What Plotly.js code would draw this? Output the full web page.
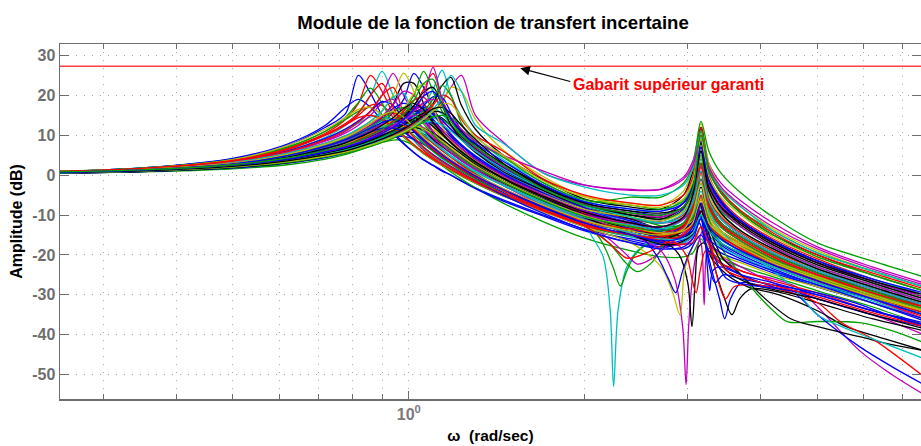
<!DOCTYPE html>
<html><head><meta charset="utf-8"><script src="https://cdn.plot.ly/plotly-3.0.0.min.js"></script>
<style>html,body{margin:0;padding:0;background:#fff;overflow:hidden}</style></head><body><div id="g" style="width:921px;height:446px"></div>
<script>
const omega=[.25,.35,.5,.62,.72,.78,.82,.86,.9,.94,.98,1.02,1.06,1.1,1.14,1.18,1.23,1.3,1.45,1.7,2,2.4,2.7,2.95,3.06,3.16,3.26,3.42,3.7,4.2,5,6.2,7.6];
const omegaLeft=omega.slice(0,21);
const guarantee=27.3;
const c01=[.9,1.8,4.1,7.4,12,15.5,25,20.5,15,11,8,5.7,3.9,2.5,1.2,0,-1.4,-3.2,-6.2,-10,-13.6,-16,-17.5,-17,-15,-9,-13,-17,-20,-23.5,-27.5,-31,-35];
const c02=[.5,.8,1.6,2.6,4,5.2,6.2,7.2,8.2,8.8,8.6,7.4,5.6,4,2.4,.8,-1,-3.2,-7,-11.7,-15.8,-19,-20.5,-20.5,-19.5,-16,-19,-21,-23,-25.5,-29,-33,-37.5];
const c03=[.9,1.7,3.8,6.8,10.5,14,18,25,21,15.5,11.7,8.7,6.2,4.2,2.8,1.5,0,-1.8,-4.9,-9,-12.6,-14.8,-15.5,-13,-8,2,-8,-13,-16.5,-21,-25,-29.5,-33.5];
const c04=[.8,1.6,3.6,6.2,9.5,12.5,15.5,20,26,20,14.5,11,8,6,4.1,2.8,1.3,-.5,-4,-8.2,-12,-14,-15,-14,-11,-4,-11,-15,-18,-22,-26,-30,-34];
const c05=[.8,1.5,3.3,5.8,8.7,11,13.3,16,20,25.5,20,15,11.5,8.8,6.6,4.7,2.8,.8,-2.6,-7.1,-11,-13,-14,-12,-7,3,-7,-12,-15.5,-20,-24.5,-29,-32.5];
const c06=[.8,1.5,3.1,5.3,7.8,9.8,11.6,13.6,16.2,20,25.6,21,15.5,12,9.2,7.1,4.7,2.2,-1.4,-6,-10,-12,-13,-11,-6,4.5,-5,-10,-14,-19,-23.5,-28,-32];
const c07=[.8,1.4,3,5,7.4,9.2,10.8,12.6,14.8,17.8,23,23,18,13.6,10.5,8.1,5.8,3.1,-.8,-5.5,-9.5,-12,-13.5,-13,-10,-3,-10,-14,-17,-21.5,-25.5,-30,-34];
const c08=[.8,1.4,2.8,4.7,6.9,8.5,9.9,11.4,13.2,15.6,19,25.5,22,17,13,10,7.5,4.4,.1,-4.7,-9,-11,-11.5,-8.5,-3,9,-1,-7,-12,-17,-22,-27,-31];
const c09=[.8,1.3,2.7,4.4,6.4,7.8,9,10.4,12,13.8,16.3,20,26,21,16,12.7,9.5,6,1.4,-3.8,-8.2,-10,-11,-9,-4.5,5,-4,-9,-13,-18,-23,-27.5,-31.5];
const c10=[.8,1.3,2.6,4.2,6,7.3,8.4,9.6,11,12.6,14.6,17.4,21.5,25.5,19,14.5,10.8,7,2.2,-3.2,-7.6,-9.5,-10,-7,-1.5,10,0,-6,-11,-16,-21,-26,-30];
const c11=[.7,1.2,2.4,3.9,5.5,6.7,7.6,8.7,9.9,11.2,12.8,14.8,17.5,21.5,26.3,20,14.7,10,3.9,-1.9,-6.6,-8.5,-9,-6,-1,8,-1,-6.5,-11.5,-16.5,-21.5,-26,-30];
const c12=[.7,1.2,2.3,3.7,5.2,6.2,7.1,8.1,9.1,10.3,11.6,13.3,15.4,18,22.5,24.5,17.5,11.5,5,-1.2,-6,-8,-8.5,-5,1,12,1.5,-4.5,-9.5,-15,-20,-25,-29];
const c13=[.7,1.1,2.2,3.4,4.8,5.8,6.5,7.4,8.3,9.3,10.5,11.9,13.5,15.5,18,22,21,14,6.3,-.4,-5.3,-7,-7.5,-4,2,13,3,-3,-8,-13.5,-19,-24,-28];
const c14=[.7,1.1,2.2,3.5,4.9,5.9,6.6,7.5,8.4,9.4,10.6,12,13.6,15.8,18.5,22,25,15,8.3,.5,-2.5,-3.6,-3.5,-.5,3.5,11.5,3,-2,-6.5,-12,-18,-23,-27];
const c15=[.9,1.8,4.2,7.8,12.5,17,19,17,13.5,10.3,7.8,5.7,3.8,2.4,1,0,-1.5,-3.4,-6.5,-10.3,-14,-17,-18,-17,-15,-9,-14,-17.5,-20.5,-24,-28,-32,-36];
const c16=[.9,1.7,3.9,7,11,14,16,17,15,12,9.5,7.3,5.4,3.8,2.4,1.2,-.2,-2,-5.2,-9,-12.8,-15.5,-16.5,-15,-12,-5,-12,-16,-19,-22.5,-26.5,-31,-35];
const c17=[.8,1.6,3.7,6.5,10,12.7,15,17.5,17.5,14.5,11.2,8.8,6.4,4.5,3,1.7,.2,-1.6,-4.6,-8.6,-12.2,-15,-16,-14,-10,-2,-10,-14,-17.5,-21.5,-25.5,-30,-34];
const c18=[.8,1.5,3.4,6,9,11.2,13,14.6,15,13.5,11,8.7,6.6,4.8,3.2,1.9,.5,-1.3,-4.5,-8.6,-12.4,-15.5,-17,-17,-15,-10,-15,-18,-20.5,-24,-27.5,-31.5,-36];
const c19=[.8,1.5,3.3,5.7,8.5,10.6,12.5,15,18,19,15,11.7,9,6.8,5,3.4,1.7,-.3,-3.5,-7.6,-11.4,-14,-15,-13,-9,-1,-9,-13,-16.5,-21,-25,-29.5,-33.5];
const c20=[.7,1.4,3,5.2,7.7,9.5,11,12.8,14.8,16.3,15.5,13,10.4,8,6.2,4.6,2.8,.8,-2.6,-6.9,-10.7,-13.5,-14.5,-13,-9,0,-8,-12.5,-16,-20.5,-25,-29.5,-33];
const c21=[.7,1.3,2.8,4.8,7,8.6,9.9,11.2,12.6,13.7,14,12.8,11,9,7.2,5.5,3.6,1.5,-2,-6.4,-10.2,-13.5,-15,-15,-13,-8,-13,-16,-19,-22.5,-26.5,-30.5,-34.5];
const c22=[.7,1.3,2.9,5,7.3,9,10.5,12.2,14.3,16.7,18,17,14,11,8.6,6.6,4.5,2.2,-1.5,-6,-9.8,-13,-14,-12,-8,1,-7,-12,-15.5,-20,-24.5,-29,-33];
const c23=[.7,1.3,2.7,4.5,6.6,8,9.3,10.7,12.2,13.9,15.5,16,14.6,12.4,10,8,5.7,3.2,-.9,-5.5,-9.3,-12.5,-13.5,-11,-6.5,4,-6,-11,-15,-19.5,-24,-28.5,-32.5];
const c24=[.8,1.3,2.7,4.4,6.4,7.8,9,10.3,11.9,13.7,16,18.8,19.5,16.5,13,10.4,7.6,4.7,.4,-4.3,-8.2,-11,-12,-10,-6,3,-6,-10.5,-14.5,-19,-23.5,-28,-32];
const c25=[.7,1.2,2.4,4,5.8,7,8,9.2,10.5,12,13.6,15.3,16.8,17,15.3,12.7,9.7,6.4,1.6,-3.4,-7.5,-11,-12,-9.5,-4,7,-3,-8.5,-13,-18,-23,-27.5,-31.5];
const c26=[.7,1.2,2.3,3.8,5.4,6.5,7.4,8.4,9.6,10.8,12.1,13.4,14.3,14.4,13.4,11.6,9.2,6.2,1.7,-3.3,-7.4,-11,-12,-11,-8,-1,-8,-12,-15.5,-20,-24.5,-28.5,-32.5];
const c27=[.6,1.1,2.2,3.6,5.2,6.3,7.2,8.2,9.2,10.3,11.2,11.9,12,11.3,10,8.5,6.5,3.8,-.3,-5,-9,-12,-13.5,-13,-11,-5,-11,-14.5,-17.5,-21.5,-25.5,-29.5,-33.5];
const c28=[.6,1,2,3.3,5,6,7,8,9,9.9,10.5,10.7,10.2,9.2,7.9,6.4,4.5,2.1,-1.8,-6.6,-10.8,-14,-15.5,-15.5,-14,-9,-13.5,-17,-19.5,-23,-27,-31,-35];
const c29=[.5,.9,1.8,3,4.4,5.6,6.6,7.6,8.7,9.6,9.7,9,7.7,6.2,4.7,3.2,1.4,-.8,-4.4,-9,-13,-16.5,-18,-18.5,-17,-13,-17,-19.5,-21.5,-24.5,-28,-32,-36.5];
const c30=[.9,1.8,3.9,7,11,14.6,18.2,21.8,18,13,10,7.6,5.5,3.8,2.4,1.2,-.2,-2,-5.2,-9,-12.8,-15,-16,-13.5,-9,-1,-8.5,-13,-16.5,-21,-25.5,-29.5,-33.5];
const c31=[.8,1.5,3.4,5.9,8.9,11.2,13.3,16,20,22,15.5,11.5,8.7,6.5,4.8,3.2,1.5,-.5,-3.7,-7.8,-11.6,-13.5,-14.5,-12.5,-8.5,.5,-8,-12.5,-16,-20.5,-25,-29,-33];
const c32=[.8,1.5,3.2,5.5,8,9.9,11.6,13.5,16,19.5,20.5,14.5,11,8.4,6.4,4.7,3,.8,-2.5,-6.8,-10.6,-12.5,-13.5,-11,-6,6,-4,-9.5,-14,-18.5,-23.5,-28,-32];
const c33=[.8,1.4,3,5,7.4,9.1,10.7,12.5,14.7,17.6,21,20,15,11,8.2,6.2,4.2,1.9,-1.8,-6.2,-10,-12,-13,-10.5,-5,7,-3,-8.5,-13,-18,-23,-27.5,-31.5];
const c34=[.8,1.3,2.7,4.5,6.5,7.9,9.2,10.6,12.2,14.1,16.7,20.5,23,17,12,9,6.3,3.6,-.4,-4.9,-8.6,-10.5,-11.5,-9,-4,6,-3,-8,-12.5,-17.5,-22.5,-27,-31];
const c35=[.8,1.3,2.6,4.2,6.1,7.3,8.4,9.6,11,12.6,14.6,17.4,20.8,22,17.5,12.6,9,5.7,.9,-3.9,-7.8,-10,-10.5,-8,-2.5,9,-1,-6.5,-11.5,-16.5,-21.5,-26.5,-30.5];
const c36=[.7,1.2,2.4,3.9,5.6,6.8,7.8,8.9,10.1,11.5,13.1,15,17.4,19.6,19.5,15.7,11.3,7.2,2.2,-3,-7.1,-9,-10,-7,-2,8.5,-1,-6.5,-11.5,-16.5,-22,-26.5,-30.5];
const c37=[.7,1.2,2.4,3.8,5.4,6.5,7.4,8.4,9.6,10.9,12.3,14,16.1,19,22.5,20,13,8,2.7,-2.6,-6.7,-5.5,-5.5,-2,2.5,13.5,6,.5,-4.5,-10.5,-17,-21.5,-25.5];
const c38=[.8,1.6,3.6,6.4,10,12.6,14.4,15,14,12,9.8,7.6,5.6,4,2.6,1.4,0,-1.8,-5,-9,-12.7,-15,-16,-15,-12,-6,-12,-15.5,-18.5,-22.5,-26.5,-30.5,-34.5];
const c39=[.7,1.3,2.7,4.6,6.8,8.3,9.6,10.8,12,12.9,13,12,10.2,8.3,6.6,4.9,3.1,1,-2.6,-7.2,-11.2,-14.5,-16,-16,-14.5,-10,-14,-17,-19.5,-23,-27,-31,-35];
const c40=[.7,1.2,2.6,4.2,6.1,7.5,8.6,9.9,11.2,12.6,14,15,14.8,13.3,11.2,9,6.7,4,-.2,-5,-9,-12,-13,-11,-7,2,-6.5,-11,-15,-19.5,-24,-28.5,-32.5];
const c41=[.6,1.1,2.4,4,5.9,7.2,8.2,9.4,10.5,11.5,12.2,12.4,11.6,10.2,8.5,6.8,4.8,2.4,-1.5,-6.2,-10.2,-13,-14.5,-14,-12,-6,-12,-15,-18,-22,-26,-30.5,-34];
const c42=[.7,1.2,2.4,3.9,5.5,6.7,7.6,8.7,9.9,11.2,12.6,14.2,15.5,16,15.7,14,11,7.7,2.8,-2.6,-7,-10,-11,-8,-3,8,-2,-8,-12.5,-17.5,-22.5,-27,-31];
const c43=[.6,1.1,2.5,4.3,6.5,8.2,9.6,10.8,11.7,11.8,10.8,9,7,5.2,3.6,2.2,.6,-1.4,-5,-9.6,-13.7,-17,-18.5,-18,-16,-11,-16,-18.5,-21,-24,-27.5,-32,-36];
const c44=[.7,1.4,2.9,5,7.3,9,10.4,12,13.9,15.9,17,15.5,12.8,10.2,8,6.2,4.2,1.9,-1.8,-6.4,-10.4,-13,-14,-12,-7.5,3,-7,-12,-15.5,-20,-24.5,-29,-33];
const c45=[.9,1.7,3.7,6.6,10.2,13,15.6,20,23,17,12.6,9.5,7,5,3.4,2,.5,-1.4,-4.6,-8.7,-12.4,-15,-15.5,-13,-8,2.5,-7.5,-12.5,-16,-20.5,-25,-29.5,-33];
const c46=[.6,1.1,2.2,3.6,5.2,6.3,7.2,8.2,9.3,10.4,11.5,12.6,13.3,13.4,12.6,11,8.8,6,1.6,-3.5,-7.7,-10.5,-12,-10.5,-7,1,-6.5,-11,-15,-19.5,-24,-28.5,-32.5];
const c47=[.7,1.2,2.5,4.1,5.8,7,8.1,9.2,10.6,12,13.8,16,18.2,19,17.5,14,10.4,6.9,2.2,-3,-7.3,-9.5,-10.5,-8,-3,7,-2,-7.5,-12,-17,-22,-26.5,-30.5];
const c48=[.7,1.4,3,5.2,7.8,9.6,11.2,13,15,16,14.5,12,9.5,7.2,5.4,3.8,2,0,-3.4,-7.6,-11.4,-14,-15,-13.5,-9.5,-2,-10,-14,-17,-21.5,-25.5,-30,-34];
const c49=[.7,1.3,2.7,4.5,6.7,8.1,9.4,10.8,12.5,14.4,16.7,18,16.4,13.2,10.5,8.2,5.9,3.4,-.7,-5.3,-9.3,-12,-13,-10.5,-5,6,-4,-9.5,-14,-18.5,-23.5,-28,-32];
const c50=[.7,1.3,2.8,4.9,7.2,8.9,10.3,11.8,13.2,13.9,13,11,8.9,7,5.2,3.6,1.9,-.2,-3.6,-8,-12,-15,-16.5,-15.5,-13,-7,-13,-16,-19,-22.5,-26.5,-31,-35];
const c51=[.8,1.3,2.6,4.2,6,7.2,8.2,9.4,10.7,12.2,14,16.5,20,27,19,14.5,11.5,8.5,5,1,-2.5,-3.8,-3.6,-1,2.5,9,2,-3,-7.5,-13,-18.5,-23.5,-27.5];
const c52=[.7,1.1,2.2,3.5,5,6,6.8,7.7,8.7,9.7,10.9,12.4,14.2,16.5,19.5,25,21,12.5,8,.5,-3,-5,-5,-2.5,1.5,11,2,-3.5,-8,-14,-19.5,-24,-28];
const c53=[.7,1.1,2.2,3.5,5,6,6.9,7.8,8.9,10,11.3,12.9,15,17.5,20,19,14,10,6,-1,-5,-7,-7.5,-5,-.5,12,2,-4,-9,-14.5,-20,-24.5,-28.5];
const c54=[.7,1.1,2.1,3.4,4.8,5.8,6.6,7.5,8.5,9.6,10.8,12.2,14,16,17.8,17.7,14.5,9.5,5,-1.5,-5.5,-7.5,-8,-6,-1.5,9,-.5,-5.5,-10,-15.5,-20.5,-25,-29];
const c55=[.6,1,2,3.2,4.6,5.5,6.3,7.2,8.2,9.3,10.5,11.9,13.3,14.6,15,14.4,12.5,8.5,4.5,-2,-6.2,-7.5,-8.5,-6.5,-2,10,1,-4,-9,-14,-19.5,-24,-28];
const c56=[.7,1.2,2.5,4,5.8,7,8,9.2,10.5,12,14,16.5,19.8,21,18,14.2,10.6,8,3.5,-2.5,-6.7,-8.5,-9,-7,-3,7,-1.5,-7,-11.5,-16.5,-21.5,-26,-29.5];
const c57=[.7,1.1,2.2,3.6,5.1,6.1,7,8,9.1,10.2,11.6,13.2,15,16.6,17,15.5,12.5,9,3,-3,-7,-9,-9.5,-8,-4,6,-3,-8,-12,-17,-22,-26.5,-30];
const c58=[.8,1.3,2.6,4.3,6.2,7.5,8.6,10,11.5,13.2,15.4,18.7,23,24,17.5,13.5,10.2,7.2,2.5,-3.5,-7.5,-9.5,-10,-8,-3.5,11,1,-4.5,-9.5,-15,-20.5,-25,-29];
const curves=[c01,c02,c03,c04,c05,c06,c07,c08,c09,c10,c11,c14,c13,c12,c15,c16,c17,c18,c19,c20,c21,c22,c23,c24,c25,c26,c27,c28,c29,c30,c31,c32,c33,c34,c35,c36,c37,c38,c39,c40,c41,c42,c43,c44,c45,c46,c47,c48,c49,c50,c55,c53,c52,c51,c54,c57,c56,c58];
const n01=[[.7,1.3,2.9,5,7.5,9.2,10.7,12.2,13.6,14.3,13.5,11.5,9.2,7.2,5.4,3.8,2,0,-3.5,-8,-12],[2.05,2.15,2.21,2.24,2.28,2.36,2.5,2.7,2.95,3.1,3.16,3.22,3.4,3.7,4.2,5,6.2,7.6],[-15,-20.5,-33.8,-53,-33.8,-23,-18,-16.5,-15,-12,-8,-12,-16,-19,-22,-26,-30,-34],"#00bfbf"];
const n02=[[.6,1.1,2.6,4.6,6.9,8.6,10,11.4,12.7,13.2,12,10,7.9,6,4.3,2.8,1,-1,-4.6,-9,-13],[2.1,2.17,2.24,2.3,2.36,2.45,2.7,2.95,3.1,3.16,3.22,3.4,3.7,4.2,5,6.2,7.6],[-15,-18.5,-23.5,-27.8,-24,-19.5,-15.5,-14,-11.5,-7,-11,-15,-18,-21.5,-26,-30,-34],"#00a000"];
const n03=[[.6,1,2.2,3.8,5.6,7,8.2,9.5,10.7,11.6,11.9,11.4,9.9,8.1,6.3,4.7,2.8,.4,-3.6,-8.4,-12.6],[2.2,2.35,2.46,2.6,2.75,2.95,3.1,3.16,3.22,3.4,3.7,4.2,5,6.2,7.6],[-17,-22,-24.2,-22,-17,-14,-12,-9,-12,-15.5,-18,-21.5,-26,-30,-34],"#00a000"];
const n04=[[.6,1,2.3,4,5.8,7.2,8.4,9.7,11,12.2,13,13,11.8,9.8,7.9,6,3.9,1.5,-2.6,-7.6,-12],[2.2,2.36,2.46,2.6,2.8,2.95,3.1,3.16,3.22,3.4,3.7,4.2,5,6.2,7.6],[-16,-20,-22.3,-21,-17,-14.5,-11.5,-7,-11.5,-15,-18,-22,-26.5,-31,-36],"#bf00bf"];
const n05=[[.7,1.3,2.7,4.6,6.7,8.2,9.5,10.9,12.4,14,15.5,15.4,13.3,10.8,8.5,6.6,4.5,2.1,-1.7,-6.3,-10.4],[2.4,2.7,2.85,2.94,2.98,3.01,3.06,3.13,3.18,3.25,3.4,3.7,4.2,5,6.2,7.6],[-15,-19,-26,-38,-52.5,-38,-25,-17,-14,-17,-20,-23,-27,-31,-35,-40],"#bf00bf"];
const n06=[[.7,1.3,2.8,4.7,6.9,8.5,9.8,11.2,12.8,14.2,14.8,13.8,11.6,9.4,7.4,5.6,3.6,1.3,-2.4,-7,-11],[2.4,2.8,3,3.1,3.16,3.2,3.24,3.3,3.45,3.7,4.2,4.6,5,5.9,6.7,7.6],[-14.5,-17.5,-17,-15,-17,-32.5,-19,-18,-21,-24,-26,-28,-33,-44,-50,-55],"#bf00bf"];
const n07=[[.7,1.3,2.6,4.3,6.3,7.6,8.8,10.1,11.5,13,14.6,16,15.7,13.6,11.2,9,6.7,4,-.2,-5,-9.2],[2.4,2.7,2.9,3,3.05,3.09,3.13,3.2,3.3,3.5,3.8,4.3,5,5.6,6.5,7.6],[-13,-16,-20,-27,-38,-26,-18,-17,-21,-25,-28,-30,-34,-38,-41,-44],"#000000"];
const n08=[[.9,1.7,3.9,7.4,11.5,14.5,16.5,17,15,12.2,9.7,7.5,5.5,3.9,2.5,1.3,-.1,-1.9,-5.1,-9.2,-13],[2.4,2.7,2.82,2.91,2.96,3.02,3.1,3.16,3.22,3.4,3.7,4.2,5,6.2,7.6],[-17,-23,-29,-35,-24,-20,-16,-13,-17,-20,-22,-25,-28,-32,-36],"#bfbf00"];
const n09=[[.8,1.6,3.5,6.1,9.2,11.6,13.6,16,18.4,17.5,13.8,10.9,8.5,6.4,4.7,3.2,1.5,-.5,-3.9,-8.2,-12],[2.4,2.8,3.05,3.14,3.2,3.3,3.4,3.47,3.55,3.7,3.95,4.5,5,6.2,7.6],[-15,-17,-15,-12,-16,-24,-31,-36,-31,-27,-27.5,-29,-31,-35,-38],"#0000ff"];
const n10=[[.6,1.1,2.2,3.6,5.2,6.4,7.3,8.3,9.5,10.8,12.2,13.7,15,15.4,14.3,12.4,9.8,6.7,2,-3.2,-7.6],[2.4,2.8,3.05,3.14,3.22,3.32,3.45,3.57,3.68,3.85,4.2,5,6.2,7.6],[-11,-14,-11,-7,-13,-22,-30,-35,-31,-28.5,-29,-32,-36,-39],"#000000"];
const n11=[[.6,1,2.1,3.4,4.9,6,6.9,7.8,8.9,10,11.3,12.8,14.1,14.7,14,12.4,10,7,2.3,-3,-7.3],[2.4,2.8,3.05,3.16,3.28,3.45,3.7,3.95,4.2,4.45,5,5.9,6.7,7.6],[-10.5,-13,-11,-6,-12,-19,-25,-30,-34,-36.8,-36.7,-37,-39,-42],"#00a000"];
const n12=[[.7,1.3,2.6,4.3,6.3,7.7,8.9,10.2,11.7,13.3,15.3,17.2,16.6,14,11.4,9.1,6.7,4,-.3,-5.1,-9.4],[2.4,2.65,2.78,2.86,2.94,3.03,3.16,3.26,3.42,3.7,4.2,4.6,5,5.9,6.7,7.6],[-13,-20,-26,-29.5,-24,-19,-15,-19,-22,-25,-28,-30,-35,-43,-48,-52.5],"#0000ff"];
const n13=[[.6,1.1,2.4,4,5.9,7.2,8.3,9.5,10.8,12,13.2,14,13.7,12.2,10.2,8.2,6,3.3,-.9,-5.6,-9.8],[2.4,2.8,3.05,3.16,3.28,3.45,3.7,4,4.5,5,5.9,6.7,7.6],[-13,-15.5,-12,-7,-14,-21,-25,-30,-36,-38,-40.5,-42.5,-44],"#000000"];
const n14=[[.7,1.2,2.5,4.1,6,7.3,8.4,9.7,11.2,12.8,14.7,16.8,17.6,15.3,12.5,10,7.3,4.6,.2,-4.7,-9],[2.4,2.8,3.05,3.16,3.26,3.36,3.48,3.6,3.9,4.4,5,5.5,6.2,7.6],[-12.5,-15,-12.5,-9,-15,-25,-31,-28,-27.5,-29,-32,-37,-41,-50.5],"#ff0000"];
const n15=[[.7,1.2,2.5,4.1,5.9,7.2,8.2,9.4,10.7,12.1,13.7,15.3,16,14.8,12.5,10.2,7.7,4.9,.6,-4.4,-8.6],[2.4,2.8,3.05,3.16,3.26,3.42,3.7,4.2,4.6,5,5.5,6.2,7.6],[-11.5,-13.5,-10.5,-2,-9,-14,-18.5,-24,-29,-35,-38,-41,-46],"#00bfbf"];
const n16=[[.7,1.3,2.6,4.4,6.4,7.8,9,10.3,11.8,13.5,15.5,17,15.6,13,10.5,8.4,6.1,3.5,-.6,-5.3,-9.5],[2.4,2.8,2.98,3.05,3.1,3.15,3.22,3.4,3.7,4.2,5,6.2,7.6],[-13,-16,-20,-26,-29.5,-24,-19,-22,-24,-26.5,-29.5,-34,-37.5],"#ff0000"];
const n17=[[.6,1.1,2.3,3.8,5.5,6.7,7.7,8.9,10.2,11.6,13.2,15,16.1,15.6,13.8,11.5,8.9,5.9,1.4,-3.8,-8.2],[2.4,2.8,3.05,3.14,3.2,3.24,3.27,3.31,3.4,3.7,4.2,5,6.2,7.6],[-11.5,-14,-12,-10,-14,-23,-29,-24,-23,-25,-27,-30,-34,-37.5],"#0000ff"];
const n18=[[.7,1.2,2.5,4.2,6.1,7.4,8.5,9.8,11.2,12.8,14.6,16.5,17,15.2,12.6,10.2,7.6,4.8,.4,-4.5,-8.8],[2.4,2.8,3.05,3.14,3.2,3.28,3.34,3.45,3.7,4.2,5,5.8,6.6,7.6],[-12,-14.5,-12,-9,-15,-24,-27,-25,-26,-27.5,-29.5,-32,-35,-38],"#0000ff"];
const n19=[[.6,1,2.2,3.7,5.4,6.6,7.7,9,10.3,11.4,11.8,11.2,9.8,8,6.1,4.5,2.5,.2,-3.9,-8.6,-12.8],[2.2,2.36,2.55,2.8,2.95,3.1,3.16,3.22,3.4,3.7,4.2,5,6.2,7.6],[-17,-20.8,-19.5,-16.5,-15,-11,-5,-11,-15,-18.5,-22,-26.5,-31,-35.5],"#ff0000"];
const n20=[[.5,.9,1.9,3.1,4.6,5.8,6.8,7.9,9.1,10.2,11.2,11.8,11.6,10.6,9,7.3,5.3,2.7,-1.5,-6.2,-10.6],[2.4,2.8,3.05,3.16,3.3,3.5,3.8,4.3,5,6.2,7.6],[-15,-17.5,-15,-9,-17,-24,-27,-29,-31,-35,-38.5],"#000000"];
const n21=[[.6,1,2.1,3.5,5,6.1,7,8.1,9.3,10.5,11.9,13.2,13.6,13,11.5,9.6,7.3,4.5,.1,-4.9,-9.2],[2.4,2.8,3.05,3.16,3.3,3.5,3.8,4.3,5,6.2,7.6],[-13.5,-16,-14,-11,-19,-26,-27.5,-28.5,-30,-34,-37],"#0000ff"];
const n22=[[.8,1.5,3.2,5.5,8,9.9,11.3,13,14.8,15.6,14,11.8,9.4,7.2,5.4,3.8,2,0,-3.4,-7.7,-11.6],[2.4,2.8,3.05,3.16,3.3,3.5,3.8,4.3,5,6.2,7.6],[-14.5,-17,-17,-13,-19,-24,-26,-28,-30.5,-34.5,-38],"#ff0000"];
const notched=[n01,n02,n03,n04,n05,n06,n07,n08,n09,n10,n11,n12,n13,n14,n15,n16,n17,n18,n19,n20,n21,n22];
const palette=["#0000ff","#00a000","#ff0000","#00bfbf","#bf00bf","#bfbf00","#000000"];
const yTicks=[30,20,10,0,-10,-20,-30,-40,-50];
const yLabels=["30","20","10","0","-10","-20","-30","-40","-50"];
const xMinor=[.3,.4,.5,.6,.7,.8,.9,2,3,4,5,6,7];

const traces=[];
curves.forEach((c,i)=>{if(i<30)traces.push({x:omega,y:c,color:palette[i%7]});});
notched.forEach(n=>traces.push({x:omegaLeft.concat(n[1]),y:n[0].concat(n[2]),color:n[3]}));
curves.forEach((c,i)=>{if(i>=30)traces.push({x:omega,y:c,color:palette[i%7]});});
const data=traces.map(t=>({type:'scatter',mode:'lines',x:t.x,y:t.y,line:{color:t.color,width:1.3,shape:'spline',smoothing:.9},hoverinfo:'skip'}));
data.push({type:'scatter',mode:'lines',x:[.25,7.6],y:[guarantee,guarantee],line:{color:'#ff4040',width:1.4},hoverinfo:'skip'});
const gray='#6e6e6e', F='Liberation Sans', gridC='#a6a6a6', gridD='1px,7px';
const layout={width:921,height:446,showlegend:false,paper_bgcolor:'#fff',plot_bgcolor:'#fff',
 margin:{l:59.5,t:43.5,b:47,r:0},
 title:{text:'Module de la fonction de transfert incertaine',x:493/921,xanchor:'center',xref:'container',y:1-22/446,yanchor:'middle',yref:'container',font:{family:F,size:18.6,color:'#000',weight:700}},
 xaxis:{type:'log',range:[-0.5966,0.876],tickmode:'array',tickvals:[1],ticktext:['10<sup>0</sup>'],ticks:'inside',ticklen:8,tickcolor:gray,tickwidth:1,
  tickfont:{family:F,size:16,color:'#7a7a7a',weight:700},showgrid:true,griddash:gridD,gridcolor:gridC,gridwidth:1,
  showline:true,linecolor:gray,linewidth:1.5,mirror:'ticks',zeroline:false,
  minor:{tickmode:'array',tickvals:xMinor,ticks:'inside',ticklen:5,tickcolor:gray,showgrid:true,griddash:gridD,gridcolor:gridC,gridwidth:1},
  title:{text:'ω  (rad/sec)',standoff:8,font:{family:F,size:15.5,color:'#000',weight:700}}},
 yaxis:{range:[-56.13,32.88],tickmode:'array',tickvals:yTicks,ticktext:yLabels,ticks:'inside',ticklen:9,tickcolor:gray,tickwidth:1,
  tickfont:{family:F,size:16,color:gray,weight:700},showgrid:true,griddash:gridD,gridcolor:gridC,gridwidth:1,
  showline:true,linecolor:gray,linewidth:1.5,mirror:'ticks',zeroline:false,
  title:{text:'Amplitude (dB)',standoff:5,font:{family:F,size:16,color:'#000',weight:700}}},
 annotations:[
  {xref:'x',yref:'y',x:0.1906,y:26.8,ax:53,ay:14,axref:'pixel',ayref:'pixel',text:' ',showarrow:true,arrowhead:2,arrowsize:1.6,arrowwidth:1.2,arrowcolor:'#000'},
  {xref:'x',yref:'y',x:0.2775,y:22.8,xanchor:'left',yanchor:'middle',text:'Gabarit supérieur garanti',showarrow:false,font:{family:F,size:16,color:'#ff0000',weight:700}}
 ]};
Plotly.newPlot('g',data,layout,{displayModeBar:false,staticPlot:true});
</script></body></html>
